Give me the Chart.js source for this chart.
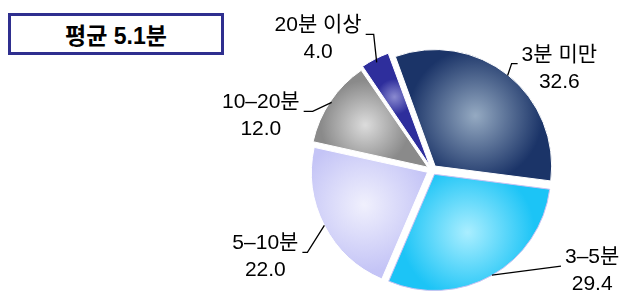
<!DOCTYPE html>
<html>
<head>
<meta charset="utf-8">
<script src="https://cdn.jsdelivr.net/npm/chart.js@4.4.0/dist/chart.umd.min.js"></script>
<style>
  html, body { margin: 0; padding: 0; background: #fff; }
  #wrap { position: relative; width: 626px; height: 291px; overflow: hidden; }
  #pie { position: absolute; left: 0; top: 0; }
  #avg {
    position: absolute; left: 8px; top: 13px; width: 216px; height: 42px;
    box-sizing: border-box; border: 3px solid #2f2f8f; background: #fff;
    font: bold 23px "Liberation Sans", "Noto Sans CJK KR", sans-serif; color: #000;
    display: flex; align-items: center; justify-content: center;
  }
</style>
</head>
<body>
<div id="wrap">
  <canvas id="pie" width="626" height="291"></canvas>
  <div id="avg"></div>
</div>
<script>
// data (%)
const categories = ["3분 미만", "3–5분", "5–10분", "10–20분", "20분 이상"];
const shares = [32.6, 29.4, 22.0, 12.0, 4.0];
const averageText = "평균 5.1분";

// look
const edgeColors = ["#1b3468", "#1cc4f6", "#c4c4f6", "#8a8a8a", "#2e2e9c"];
const centerColors = ["#95aac2", "#aaeeff", "#f0f0fd", "#dcdcdc", "#8a8ad0"];
const borderColors = ["#ffffff", "#c9c2f2", "#ffffff", "#ffffff", "#ffffff"];
const RADIUS = 116;
const ROTATION = -20;
const LABEL_FONT = '21px "Liberation Sans", "Noto Sans CJK KR", sans-serif';
// leader line bends: from the slice edge, then a short horizontal run
const leaderBends = [
  { dx: 4, dy: -12, h: 6 },
  { dx: 69, dy: -9, h: 0 },
  { dx: -17, dy: 27, h: -5 },
  { dx: -19, dy: 9, h: -9 },
  { dx: -3, dy: -28, h: -8 },
];

document.getElementById("avg").textContent = averageText;

function sliceGeom(chart, i) {
  const ca = chart.chartArea;
  const cx = (ca.left + ca.right) / 2, cy = (ca.top + ca.bottom) / 2;
  const total = shares.reduce((a, b) => a + b, 0);
  let start = -Math.PI / 2 + ROTATION * Math.PI / 180;
  for (let j = 0; j < i; j++) start += shares[j] / total * 2 * Math.PI;
  const span = shares[i] / total * 2 * Math.PI;
  return { cx, cy, span, mid: start + span / 2 };
}

function sliceFill(c) {
  const i = c.dataIndex;
  const chart = c.chart;
  if (!chart.chartArea) return edgeColors[i];
  const g = sliceGeom(chart, i);
  const a = g.span / 2;
  const d = 2 * RADIUS * Math.sin(a) / (3 * a);
  const gx = g.cx + Math.cos(g.mid) * d, gy = g.cy + Math.sin(g.mid) * d;
  const gr = Math.max(18, Math.min(0.58 * RADIUS, d * Math.sin(a) * 1.6));
  const grad = chart.ctx.createRadialGradient(gx, gy, 0, gx, gy, gr);
  grad.addColorStop(0, centerColors[i]);
  grad.addColorStop(1, edgeColors[i]);
  return grad;
}

const labelPlugin = {
  id: "sliceLabels",
  afterDatasetsDraw(chart) {
    const ctx = chart.ctx;
    const arcs = chart.getDatasetMeta(0).data;
    ctx.save();
    ctx.font = LABEL_FONT;
    ctx.fillStyle = "#000";
    ctx.strokeStyle = "#000";
    ctx.lineWidth = 1.3;
    arcs.forEach((arc, i) => {
      const mid = (arc.startAngle + arc.endAngle) / 2;
      const shift = (arc.options.offset || 0) / 4;
      const r = arc.outerRadius + shift;
      const ax = arc.x + Math.cos(mid) * r, ay = arc.y + Math.sin(mid) * r;
      const b = leaderBends[i];
      const bx = ax + b.dx, by = ay + b.dy;
      const ex = bx + b.h;
      ctx.beginPath();
      ctx.moveTo(ax, ay);
      ctx.lineTo(bx, by);
      ctx.lineTo(ex, by);
      ctx.stroke();

      const lines = [categories[i], shares[i].toFixed(1)];
      const w = Math.max(...lines.map(t => ctx.measureText(t).width));
      const right = Math.cos(mid) > 0;
      const bcx = right ? ex + 4 + w / 2 : ex - 4 - w / 2;
      ctx.textAlign = "center";
      ctx.textBaseline = "alphabetic";
      ctx.fillText(lines[0], bcx, by - 3);
      ctx.fillText(lines[1], bcx, by + 24);
    });
    ctx.restore();
  }
};

new Chart(document.getElementById("pie"), {
  type: "pie",
  data: {
    labels: categories,
    datasets: [{
      data: shares,
      backgroundColor: sliceFill,
      borderColor: borderColors,
      borderWidth: 1,
      offset: 20,
    }],
  },
  options: {
    responsive: false,
    animation: false,
    events: [],
    rotation: ROTATION,
    radius: RADIUS,
    layout: { padding: { left: 313, right: 75, top: 51, bottom: 2 } },
    plugins: { legend: { display: false }, tooltip: { enabled: false } },
  },
  plugins: [labelPlugin],
});
</script>
</body>
</html>
